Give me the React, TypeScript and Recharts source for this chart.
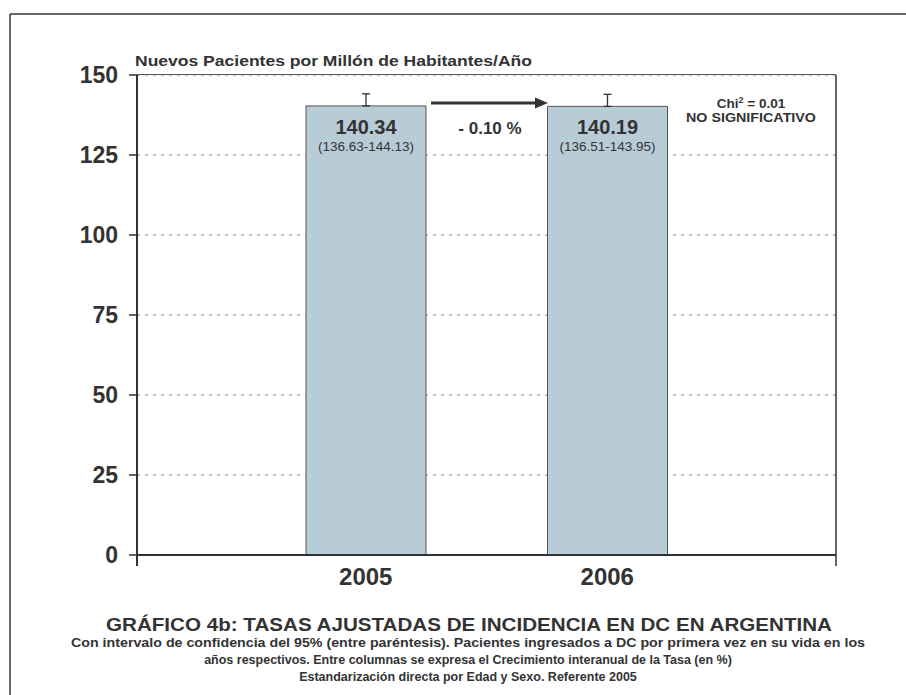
import React from 'react';
import { BarChart, Bar, XAxis, YAxis, CartesianGrid, ErrorBar, LabelList } from 'recharts';

const FONT = "'Liberation Sans', Arial, Helvetica, sans-serif";
const INK = '#333333';
const BAR_FILL = '#b8ccd8';
const BAR_EDGE = '#555555';
const GRID = '#8c8888';

const years = ['2005', '2006'];
const rates = [140.34, 140.19];
const ciLow = [136.63, 136.51];
const ciHigh = [144.13, 143.95];
const yTicks = [0, 25, 50, 75, 100, 125, 150];
const changeLabel = '- 0.10 %';
const chiLabel = ['Chi', '2', ' = 0.01'];
const sigLabel = 'NO SIGNIFICATIVO';
const yTitle = 'Nuevos Pacientes por Millón de Habitantes/Año';
const captionTitle = 'GRÁFICO 4b:  TASAS  AJUSTADAS  DE INCIDENCIA EN DC EN ARGENTINA';
const captionLines = [
  'Con intervalo de confidencia del 95% (entre paréntesis). Pacientes ingresados a DC por primera vez en su vida en los',
  'años respectivos. Entre columnas se expresa el Crecimiento interanual de la Tasa (en %)',
  'Estandarización directa por Edad y Sexo. Referente 2005',
];

const data = years.map((year, i) => ({
  year,
  rate: rates[i],
  err: [0, ciHigh[i] - rates[i]],
}));

function fmtCI(i: number) {
  return `(${ciLow[i].toFixed(2)}-${ciHigh[i].toFixed(2)})`;
}

/* value + confidence interval printed inside each bar */
function BarLabel(props: any) {
  const { x, y, width, index, value } = props;
  const cx = Number(x) + Number(width) / 2;
  const top = Number(y);
  return (
    <g>
      <text x={cx} y={top + 28} textAnchor="middle" fontFamily={FONT} fontWeight="bold" fontSize={20} fill={INK}>
        {Number(value).toFixed(2)}
      </text>
      <text x={cx} y={top + 45} textAnchor="middle" fontFamily={FONT} fontSize={13.5} fill={INK}>
        {fmtCI(index)}
      </text>
    </g>
  );
}

export default function App() {
  return (
    <div style={{ position: 'absolute', left: 0, top: 0, width: 906, height: 695, background: '#fff' }}>
      <BarChart
        width={906}
        height={695}
        data={data}
        margin={{ top: 75, right: 70, bottom: 110, left: 0 }}
      >
        <CartesianGrid horizontal vertical={false} stroke={GRID} strokeDasharray="3 5" />
        <XAxis
          dataKey="year"
          padding={{ left: 108, right: 108 }}
          height={30}
          tickLine={false}
          tickSize={0}
          tickMargin={13}
          axisLine={{ stroke: INK, strokeWidth: 2 }}
          tick={{ fill: INK, fontSize: 24, fontWeight: 'bold', fontFamily: FONT }}
        />
        <YAxis
          domain={[0, 150]}
          ticks={yTicks}
          width={137}
          tickSize={8}
          tickMargin={11}
          axisLine={{ stroke: INK, strokeWidth: 2 }}
          tickLine={{ stroke: INK, strokeWidth: 1.5 }}
          tick={{ fill: INK, fontSize: 23, fontWeight: 'bold', fontFamily: FONT }}
        />
        <Bar dataKey="rate" barSize={120} fill={BAR_FILL} stroke={BAR_EDGE} strokeWidth={1} isAnimationActive={false}>
          <ErrorBar dataKey="err" direction="y" width={4} stroke={INK} strokeWidth={1.3} />
          <LabelList dataKey="rate" content={<BarLabel />} />
        </Bar>
      </BarChart>

      <svg
        width={906}
        height={695}
        style={{ position: 'absolute', left: 0, top: 0, pointerEvents: 'none' }}
      >
        {/* outer frame */}
        <line x1={10} y1={14} x2={906} y2={14} stroke={INK} strokeWidth={1.5} />
        <line x1={10} y1={14} x2={10} y2={695} stroke={INK} strokeWidth={1.5} />

        {/* plot frame top / right, axis extensions */}
        <line x1={137} y1={74.5} x2={836} y2={74.5} stroke="#555" strokeWidth={1} />
        <line x1={836} y1={75} x2={836} y2={566} stroke={INK} strokeWidth={1.5} />
        <line x1={137} y1={555} x2={137} y2={566} stroke={INK} strokeWidth={2} />

        <text x={135} y={66} fontFamily={FONT} fontWeight="bold" fontSize={14.5} fill={INK} textLength={397} lengthAdjust="spacingAndGlyphs">
          {yTitle}
        </text>

        {/* growth arrow between columns */}
        <line x1={431} y1={103} x2={538} y2={103} stroke={INK} strokeWidth={3} />
        <polygon points="535,97.5 548,103 535,108.5" fill={INK} />
        <text x={490} y={134} textAnchor="middle" fontFamily={FONT} fontWeight="bold" fontSize={17} fill={INK}>
          {changeLabel}
        </text>

        <text x={751} y={108} textAnchor="middle" fontFamily={FONT} fontWeight="bold" fontSize={13.5} fill={INK}>
          {chiLabel[0]}
          <tspan fontSize={9} dy={-5}>{chiLabel[1]}</tspan>
          <tspan dy={5}>{chiLabel[2]}</tspan>
        </text>
        <text x={751} y={122} textAnchor="middle" fontFamily={FONT} fontWeight="bold" fontSize={13} fill={INK} textLength={130} lengthAdjust="spacingAndGlyphs">
          {sigLabel}
        </text>

        {/* caption */}
        <text x={469} y={631} textAnchor="middle" fontFamily={FONT} fontWeight="bold" fontSize={18} fill={INK} textLength={726} lengthAdjust="spacingAndGlyphs">
          {captionTitle}
        </text>
        {captionLines.map((t, i) => (
          <text
            key={i}
            x={468}
            y={647 + i * 17}
            textAnchor="middle"
            fontFamily={FONT}
            fontWeight="bold"
            fontSize={12.5}
            fill={INK}
            textLength={i === 0 ? 794 : undefined}
            lengthAdjust="spacingAndGlyphs"
          >
            {t}
          </text>
        ))}
      </svg>
    </div>
  );
}
